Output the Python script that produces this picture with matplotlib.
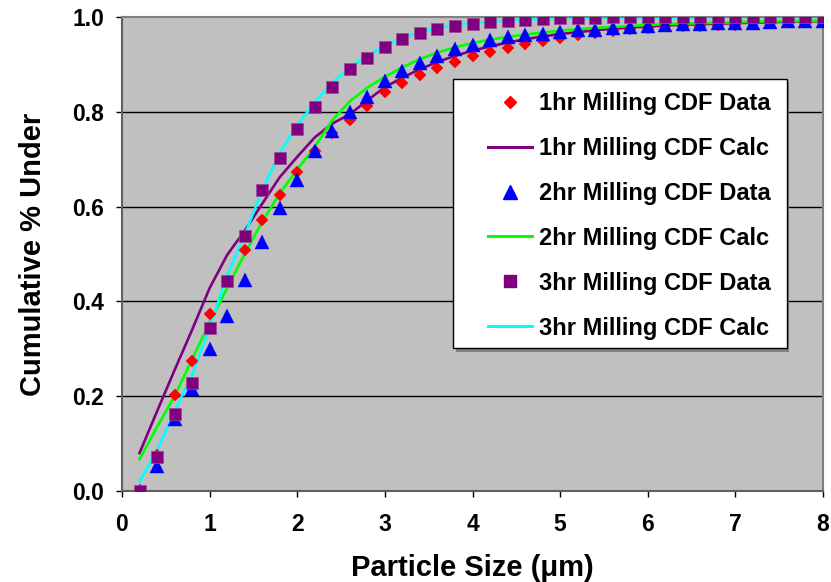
import matplotlib

matplotlib.use("Agg")
import matplotlib.pyplot as plt
from matplotlib.patches import Rectangle
from matplotlib.lines import Line2D

# particle size (um) and cumulative fraction under
size = [0.2, 0.4, 0.6, 0.8, 1.0, 1.2, 1.4, 1.6, 1.8, 2.0,
        2.2, 2.4, 2.6, 2.8, 3.0, 3.2, 3.4, 3.6, 3.8, 4.0,
        4.2, 4.4, 4.6, 4.8, 5.0, 5.2, 5.4, 5.6, 5.8, 6.0,
        6.2, 6.4, 6.6, 6.8, 7.0, 7.2, 7.4, 7.6, 7.8, 8.0]

hr1_data = [0.000, 0.075, 0.202, 0.275, 0.373, 0.443, 0.508, 0.572, 0.625, 0.674,
            0.718, 0.755, 0.782, 0.812, 0.841, 0.861, 0.877, 0.892, 0.906, 0.918,
            0.927, 0.934, 0.942, 0.949, 0.955, 0.962, 0.966, 0.971, 0.975, 0.977,
            0.980, 0.982, 0.982, 0.984, 0.984, 0.987, 0.987, 0.989, 0.989, 0.989]

hr1_calc = [0.080, 0.168, 0.255, 0.340, 0.428, 0.498, 0.549, 0.606, 0.662, 0.705,
            0.746, 0.775, 0.795, 0.824, 0.852, 0.872, 0.890, 0.905, 0.918, 0.929,
            0.938, 0.946, 0.953, 0.959, 0.964, 0.968, 0.972, 0.975, 0.978, 0.980,
            0.982, 0.984, 0.985, 0.986, 0.987, 0.988, 0.989, 0.990, 0.991, 0.991]

hr2_data = [0.000, 0.052, 0.152, 0.216, 0.300, 0.369, 0.445, 0.526, 0.598, 0.657,
            0.717, 0.760, 0.800, 0.832, 0.864, 0.887, 0.903, 0.918, 0.932, 0.941,
            0.951, 0.957, 0.962, 0.965, 0.969, 0.972, 0.973, 0.977, 0.978, 0.980,
            0.983, 0.985, 0.985, 0.987, 0.988, 0.988, 0.989, 0.991, 0.991, 0.992]

hr2_calc = [0.067, 0.135, 0.200, 0.278, 0.355, 0.428, 0.500, 0.568, 0.628, 0.678,
            0.726, 0.782, 0.822, 0.851, 0.874, 0.894, 0.911, 0.925, 0.936, 0.945,
            0.952, 0.958, 0.963, 0.967, 0.971, 0.974, 0.977, 0.979, 0.981, 0.983,
            0.985, 0.986, 0.987, 0.988, 0.989, 0.990, 0.991, 0.991, 0.992, 0.992]

hr3_data = [0.000, 0.071, 0.162, 0.228, 0.343, 0.443, 0.538, 0.634, 0.702, 0.763,
            0.811, 0.852, 0.890, 0.914, 0.937, 0.953, 0.966, 0.974, 0.980, 0.985,
            0.989, 0.992, 0.994, 0.996, 0.997, 0.998, 0.998, 0.999, 0.999, 0.999,
            0.999, 0.999, 0.999, 0.999, 0.999, 0.999, 0.999, 0.999, 0.999, 0.999]

hr3_calc = [0.020, 0.085, 0.168, 0.245, 0.345, 0.455, 0.540, 0.635, 0.713, 0.772,
            0.820, 0.861, 0.894, 0.918, 0.940, 0.956, 0.968, 0.977, 0.983, 0.987,
            0.990, 0.993, 0.995, 0.996, 0.997, 0.998, 0.998, 0.999, 0.999, 0.999,
            0.999, 0.999, 0.999, 1.000, 1.000, 1.000, 1.000, 1.000, 1.000, 1.000]

x_ticks = [0, 1, 2, 3, 4, 5, 6, 7, 8]
y_ticks = [0.0, 0.2, 0.4, 0.6, 0.8, 1.0]

plt.rcParams["font.family"] = ["Liberation Sans", "DejaVu Sans"]
plt.rcParams["font.weight"] = "bold"

fig = plt.figure(figsize=(8.31, 5.82), dpi=100)
ax = fig.add_axes([0.1468, 0.1564, 0.8436, 0.8144])
ax.set_facecolor("#C0C0C0")

# Excel draws all connecting lines first, markers on top
ax.plot(size, hr1_calc, color="#800080", lw=1.9, zorder=2)
ax.plot(size, hr2_calc, color="#00FF00", lw=1.9, zorder=2)
ax.plot(size, hr3_calc, color="#00FFFF", lw=1.9, zorder=2)
ax.plot(size, hr1_data, ls="none", marker="D", ms=6.3, color="#FF0000", mec="#FF0000", mew=0.3, zorder=3)
ax.plot(size, hr2_data, ls="none", marker="^", ms=9.6, color="#0000FF", mec="#0000FF", mew=0.3, zorder=4)
ax.plot(size, hr3_data, ls="none", marker="s", ms=8.4, color="#800080", mec="#9A4A9A", mew=0.5, zorder=5)

ax.set_xlim(0, 8)
ax.set_ylim(0, 1.0)
ax.set_xticks(x_ticks)
ax.set_yticks(y_ticks)
ax.set_yticklabels([f"{v:.1f}" for v in y_ticks])
ax.tick_params(axis="both", direction="out", length=4, width=1, color="black",
               labelsize=16.5, pad=9)
ax.tick_params(axis="x", pad=12)
for lab in ax.get_xticklabels() + ax.get_yticklabels():
    lab.set_fontweight("bold")

for yv in y_ticks[1:-1]:
    ax.axhline(yv, color="black", lw=1.0, zorder=1)

for side in ["left", "bottom"]:
    ax.spines[side].set_color("#606060")
    ax.spines[side].set_linewidth(1.5)
for side in ["top", "right"]:
    ax.spines[side].set_color("#808080")
    ax.spines[side].set_linewidth(1.5)

ax.set_xlabel("Particle Size (\u03bcm)", fontsize=21, fontweight="bold")
ax.set_ylabel("Cumulative % Under", fontsize=21, fontweight="bold")
ax.xaxis.set_label_coords(0.5, -0.132)
ax.yaxis.set_label_coords(-0.107, 0.5)

# legend box drawn by hand so the padding matches the original
ax.add_patch(Rectangle((0.476, 0.294), 0.476, 0.568, transform=ax.transAxes,
                       facecolor="#808080", edgecolor="none", zorder=6, clip_on=False))
ax.add_patch(Rectangle((0.472, 0.301), 0.476, 0.568, transform=ax.transAxes,
                       facecolor="white", edgecolor="black", lw=1.0, zorder=7, clip_on=False))

handles = [
    Line2D([], [], ls="none", marker="D", ms=6.3, color="#FF0000"),
    Line2D([], [], color="#800080", lw=2.2),
    Line2D([], [], ls="none", marker="^", ms=9.6, color="#0000FF"),
    Line2D([], [], color="#00FF00", lw=2.2),
    Line2D([], [], ls="none", marker="s", ms=8.4, color="#800080"),
    Line2D([], [], color="#00FFFF", lw=2.2),
]
labels = ["1hr Milling CDF Data", "1hr Milling CDF Calc",
          "2hr Milling CDF Data", "2hr Milling CDF Calc",
          "3hr Milling CDF Data", "3hr Milling CDF Calc"]
leg = ax.legend(handles, labels, loc="upper left", bbox_to_anchor=(0.522, 0.842),
                frameon=False, borderpad=0, borderaxespad=0, handlelength=1.85,
                handletextpad=0.3, labelspacing=0.93,
                prop={"size": 17, "weight": "bold"})
leg.set_zorder(8)

fig.savefig("out.png", dpi=100, facecolor="white")
